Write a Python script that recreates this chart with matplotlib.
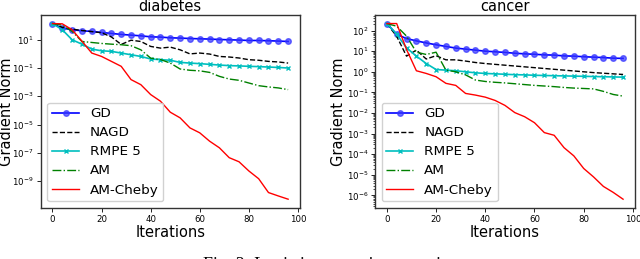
import numpy as np
import matplotlib
matplotlib.use("Agg")
import matplotlib.pyplot as plt

# iterations (recorded every 4 steps)
iters = list(range(0, 97, 4))

# values, as log10 of gradient norm
diabetes_gd = [2.15, 1.82, 1.71, 1.64, 1.59, 1.52, 1.45, 1.38, 1.33, 1.28, 1.21, 1.19, 1.14,
               1.12, 1.09, 1.07, 1.05, 1.02, 1.00, 0.98, 0.95, 0.95, 0.93, 0.91, 0.88]
diabetes_nagd = [2.15, 1.88, 1.75, 1.66, 1.58, 1.50, 1.20, 0.67, 0.97, 0.88, 0.53, 0.41, 0.48,
                 0.29, 0.00, 0.06, -0.01, -0.18, -0.22, -0.29, -0.41, -0.45, -0.53, -0.57, -0.65]
diabetes_rmpe = [2.15, 1.71, 1.00, 0.69, 0.34, 0.22, 0.18, 0.06, -0.06, -0.18, -0.36, -0.41, -0.45,
                 -0.60, -0.65, -0.69, -0.74, -0.79, -0.83, -0.85, -0.88, -0.90, -0.93, -0.96, -1.00]
diabetes_am = [2.15, 2.04, 1.59, 0.88, 0.81, 0.74, 0.69, 0.65, 0.58, 0.29, -0.30, -0.40, -0.65,
               -1.07, -1.16, -1.20, -1.31, -1.59, -1.78, -1.87, -2.06, -2.25, -2.34, -2.41, -2.53]
diabetes_cheby = [2.15, 2.13, 1.71, 0.90, 0.06, -0.18, -0.53, -0.88, -1.82, -2.18, -2.88, -3.35, -4.13,
                  -4.53, -5.24, -5.59, -6.18, -6.65, -7.35, -7.64, -8.29, -8.84, -9.82, -10.06, -10.29]

cancer_gd = [2.34, 1.82, 1.61, 1.50, 1.40, 1.31, 1.23, 1.15, 1.10, 1.05, 1.00, 0.97, 0.94,
             0.90, 0.87, 0.85, 0.82, 0.81, 0.77, 0.76, 0.73, 0.71, 0.69, 0.66, 0.65]
cancer_nagd = [2.34, 1.72, 0.76, 1.05, 0.62, 0.78, 0.58, 0.58, 0.52, 0.45, 0.40, 0.36, 0.32,
               0.28, 0.24, 0.20, 0.16, 0.12, 0.08, 0.04, 0.00, -0.04, -0.07, -0.10, -0.13]
cancer_rmpe = [2.34, 1.82, 1.16, 0.76, 0.40, 0.11, 0.08, 0.05, 0.00, -0.05, -0.08, -0.10, -0.12,
               -0.14, -0.15, -0.17, -0.18, -0.19, -0.20, -0.21, -0.22, -0.23, -0.24, -0.25, -0.26]
cancer_am = [2.34, 2.21, 1.73, 0.95, 0.84, 0.95, 0.08, 0.00, -0.15, -0.40, -0.47, -0.51, -0.54,
             -0.58, -0.62, -0.66, -0.69, -0.72, -0.76, -0.79, -0.81, -0.83, -0.95, -1.10, -1.18]
cancer_cheby = [2.34, 2.34, 1.08, 0.05, -0.08, -0.24, -0.56, -0.66, -1.05, -1.13, -1.23, -1.39, -1.63,
                -1.98, -2.18, -2.47, -2.95, -3.08, -3.68, -4.08, -4.69, -5.10, -5.56, -5.85, -6.18]

diabetes_yticks = [1e1, 1e-1, 1e-3, 1e-5, 1e-7, 1e-9]
cancer_yticks = [1e2, 1e1, 1e0, 1e-1, 1e-2, 1e-3, 1e-4, 1e-5, 1e-6]
xticks = [0, 20, 40, 60, 80, 100]

labels = ["GD", "NAGD", "RMPE 5", "AM", "AM-Cheby"]

fig = plt.figure(figsize=(6.4, 2.59), dpi=100)
ax1 = fig.add_axes([0.0636, 0.197, 0.405, 0.746])
ax2 = fig.add_axes([0.586, 0.197, 0.406, 0.746])


def panel(ax, title, gd, nagd, rmpe, am, cheby, yticks):
    ax.semilogy(iters, np.power(10.0, gd), color="b", lw=1.2, marker="o", ms=4,
                mfc=(0.2, 0.2, 1, 0.7), mec=(0.2, 0.2, 1, 0.7), label=labels[0])
    ax.semilogy(iters, np.power(10.0, nagd), "k--", lw=1.0, label=labels[1])
    ax.semilogy(iters, np.power(10.0, rmpe), color="c", lw=1.2, marker="x", ms=3.5,
                mew=1.0, label=labels[2])
    ax.semilogy(iters, np.power(10.0, am), "g-.", lw=1.0, label=labels[3])
    ax.semilogy(iters, np.power(10.0, cheby), "r-", lw=1.0, label=labels[4])

    ax.set_title(title, fontsize=10.5, pad=3)
    ax.set_xlabel("Iterations", fontsize=10.5, labelpad=1)
    ax.set_ylabel("Gradient Norm", fontsize=10.5, labelpad=2)
    ax.set_xticks(xticks)
    ax.set_yticks(yticks)
    ax.tick_params(axis="both", which="major", labelsize=6.2, length=3, width=0.6, pad=2)
    ax.tick_params(axis="y", which="minor", length=1.5, width=0.5)
    for s in ax.spines.values():
        s.set_color("#333333")
        s.set_linewidth(1.0)
    leg = ax.legend(loc="lower left", fontsize=9.7, framealpha=0.9,
                    labelspacing=0.45, borderpad=0.35, handletextpad=0.8)
    leg.get_frame().set_edgecolor("#cccccc")


panel(ax1, "diabetes", diabetes_gd, diabetes_nagd, diabetes_rmpe, diabetes_am,
      diabetes_cheby, diabetes_yticks)
panel(ax2, "cancer", cancer_gd, cancer_nagd, cancer_rmpe, cancer_am,
      cancer_cheby, cancer_yticks)
ax1.yaxis.set_label_coords(-0.104, 0.5)
ax2.yaxis.set_label_coords(-0.112, 0.5)

# caption, cut off by the bottom edge as in the source
fig.text(0.317, -0.043, "Fig. 3: Logistic regression experiments.", fontsize=13,
         family="Liberation Serif", va="baseline", ha="left")

fig.savefig("out.png", dpi=100)
